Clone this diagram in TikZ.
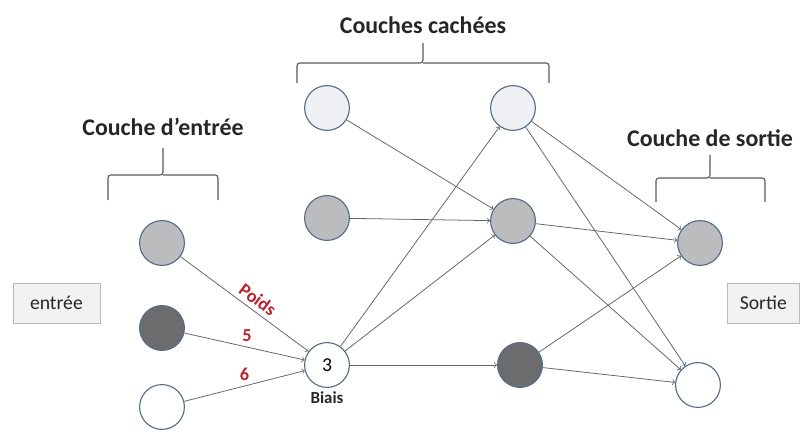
\documentclass[tikz,border=0pt]{standalone}
\usepackage{fontspec}
\setmainfont{Carlito}
\usetikzlibrary{positioning}
\definecolor{bordN}{RGB}{85,108,135}
\definecolor{lienC}{RGB}{100,100,100}
\definecolor{rougeP}{RGB}{185,35,45}
\definecolor{pale}{RGB}{238,240,244}
\definecolor{moyen}{RGB}{188,188,190}
\definecolor{fonce}{RGB}{108,108,110}

\begin{document}
\begin{tikzpicture}[scale =1,
  neurone/.style={circle, draw=bordN, line width=0.8pt, minimum size=1.12cm, inner sep=0pt},
  lien/.style={->, draw=lienC, line width=0.55pt},
  poids/.style={text=rougeP, font=\fontsize{13}{15}\selectfont\bfseries},
  titre/.style={font=\fontsize{17}{20}\selectfont\bfseries, text=black!85},
  boite/.style={draw=gray!55, fill=gray!10, minimum height=1cm, font=\fontsize{14}{16}\selectfont, text=black!85},
  accolade/.style={draw=black!65, line width=0.8pt, rounded corners=2pt}]
\useasboundingbox (0,0) rectangle (20,10.875);

% couche d'entree
\node[neurone, fill=moyen] (E1) at (4.05,4.8)  {};
\node[neurone, fill=fonce] (E2) at (4.05,2.675) {};
\node[neurone, fill=white] (E3) at (4.05,0.7)  {};

% couches cachees
\node[neurone, fill=white, font=\fontsize{14}{16}\selectfont] (B) at (8.175,1.75) {3};
\node[below=-1pt of B, font=\fontsize{12}{14}\selectfont\bfseries, text=black!85] (Bl) {Biais};
\node[neurone, fill=pale]  (C1) at (8.175,8.175) {};
\node[neurone, fill=moyen] (C2) at (8.175,5.425) {};
\node[neurone, fill=pale]  (C3) at (12.825,8.175) {};
\node[neurone, fill=moyen] (C4) at (12.825,5.35) {};
\node[neurone, fill=fonce] (C5) at (13.0,1.75) {};

% couche de sortie
\node[neurone, fill=moyen] (S1) at (17.5,4.8) {};
\node[neurone, fill=white] (S2) at (17.45,1.25) {};

% boites
\node[boite, minimum width=2.175cm] (In) at (1.41,3.3) {entrée};
\node[boite, minimum width=1.8cm, anchor=west] (Out) at (18.175,3.3) {Sortie};

% titres et accolades
\node[titre] (T1) at (4.075,7.7)  {Couche d’entrée};
\node[titre] (T2) at (10.575,10.25) {Couches cachées};
\node[titre] (T3) at (17.75,7.425) {Couche de sortie};
\draw[accolade] (2.7,5.875) |- (4.075,6.5) -- (4.075,7.175);
\draw[accolade] (4.075,6.5) -| (5.45,5.875);
\draw[accolade] (7.425,8.8) |- (10.575,9.3) -- (10.575,9.8);
\draw[accolade] (10.575,9.3) -| (13.725,8.8);
\draw[accolade] (16.4,5.825) |- (17.75,6.425) -- (17.75,7.0);
\draw[accolade] (17.75,6.425) -| (19.125,5.825);

% liens
\draw[lien] (E1) -- (B) node[pos=0.55, above, sloped, poids]{Poids};
\draw[lien] (E2) -- (B) node[pos=0.52, above, poids]{5};
\draw[lien] (E3) -- (B) node[pos=0.5, above, poids]{6};
\draw[lien] (B) -- (C3);
\draw[lien] (B) -- (C4);
\draw[lien] (B) -- (C5);
\draw[lien] (C1) -- (C4);
\draw[lien] (C2) -- (C4);
\draw[lien] (C3) -- (S1);
\draw[lien] (C3) -- (S2);
\draw[lien] (C4) -- (S1);
\draw[lien] (C4) -- (S2);
\draw[lien] (C5) -- (S1);
\draw[lien] (C5) -- (S2);
\end{tikzpicture}
\end{document}
